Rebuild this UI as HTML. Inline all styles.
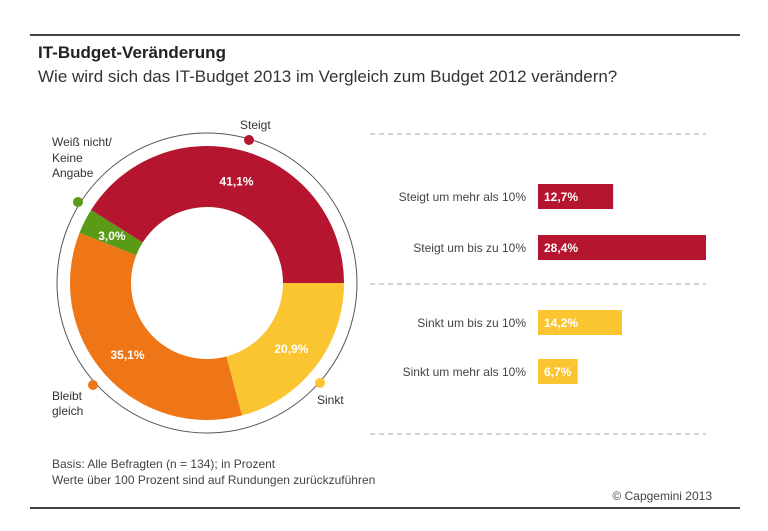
<!DOCTYPE html>
<html><head><meta charset="utf-8">
<style>
body{margin:0;background:#fff;}
svg{display:block;font-family:"Liberation Sans",sans-serif;}
</style></head>
<body>
<svg width="768" height="531" viewBox="0 0 768 531">
<line x1="30" y1="35" x2="740" y2="35" stroke="#444" stroke-width="2"/>
<text x="38" y="58" font-size="17" font-weight="bold" fill="#222">IT-Budget-Veränderung</text>
<text x="38" y="82" font-size="17" fill="#333">Wie wird sich das IT-Budget 2013 im Vergleich zum Budget 2012 verändern?</text>
<circle cx="207" cy="283" r="150" fill="none" stroke="#555" stroke-width="1"/>
<g id="donut"></g>
<g id="bars"></g>
<line x1="370" y1="134" x2="706" y2="134" stroke="#aaa" stroke-dasharray="5,4"/>
<line x1="370" y1="284" x2="706" y2="284" stroke="#aaa" stroke-dasharray="5,4"/>
<line x1="370" y1="434" x2="706" y2="434" stroke="#aaa" stroke-dasharray="5,4"/>
<text x="52" y="468" font-size="12" fill="#444">Basis: Alle Befragten (n = 134); in Prozent</text>
<text x="52" y="484" font-size="12" fill="#444">Werte über 100 Prozent sind auf Rundungen zurückzuführen</text>
<text x="712" y="500" font-size="12" fill="#444" text-anchor="end">© Capgemini 2013</text>
<line x1="30" y1="508" x2="740" y2="508" stroke="#444" stroke-width="2"/>
</svg>
<script>
const sliceNames=["Steigt","Weiß nicht/Keine Angabe","Bleibt gleich","Sinkt"];
const sliceValues=[41.1,3.0,35.1,20.9];
const sliceLabels=["41,1%","3,0%","35,1%","20,9%"];
const sliceColors=["#b5152e","#5a9a16","#ee7617","#fbc531"];
const barCategories=["Steigt um mehr als 10%","Steigt um bis zu 10%","Sinkt um bis zu 10%","Sinkt um mehr als 10%"];
const barValues=[12.7,28.4,14.2,6.7];
const barLabels=["12,7%","28,4%","14,2%","6,7%"];
const barColors=["#b5152e","#b5152e","#fbc531","#fbc531"];
const NS="http://www.w3.org/2000/svg";
const cx=207,cy=283,R=137,r=76;
function pt(a,rad){return [cx+rad*Math.cos(a*Math.PI/180),cy-rad*Math.sin(a*Math.PI/180)];}
const donut=document.getElementById('donut');
const total=sliceValues.reduce((s,v)=>s+v,0);
let a0=0;
sliceValues.forEach((v,i)=>{
  const sweep=v/total*360,a1=a0+sweep,large=sweep>180?1:0;
  const p1=pt(a0,R),p2=pt(a1,R),p3=pt(a1,r),p4=pt(a0,r);
  const path=document.createElementNS(NS,'path');
  path.setAttribute('d',`M${p1[0]},${p1[1]}A${R},${R} 0 ${large} 0 ${p2[0]},${p2[1]}L${p3[0]},${p3[1]}A${r},${r} 0 ${large} 1 ${p4[0]},${p4[1]}Z`);
  path.setAttribute('fill',sliceColors[i]);
  
  
  donut.appendChild(path);
  const mid=(a0+a1)/2,lp=pt(mid,(R+r)/2);
  const t=document.createElementNS(NS,'text');
  t.setAttribute('x',lp[0]);t.setAttribute('y',lp[1]+5);
  t.setAttribute('text-anchor','middle');t.setAttribute('font-size','12');t.setAttribute('font-weight','bold');t.setAttribute('fill','#fff');
  t.textContent=sliceLabels[i];
  
  
  donut.appendChild(t);
  a0=a1;
});
// marker dots and category labels (positions of annotations)
const dots=[[249,140],[78,202],[93,385],[320,383]];
const catLines=[[["Steigt",240,129,"start"]],[["Weiß nicht/",52,146,"start"],["Keine",52,162,"start"],["Angabe",52,177,"start"]],[["Bleibt",52,400,"start"],["gleich",52,415,"start"]],[["Sinkt",317,404,"start"]]];
dots.forEach((d,i)=>{
  const c=document.createElementNS(NS,'circle');
  c.setAttribute('cx',d[0]);c.setAttribute('cy',d[1]);c.setAttribute('r','5');c.setAttribute('fill',sliceColors[i]);
  
  
  donut.appendChild(c);
  catLines[i].forEach(l=>{
    const t=document.createElementNS(NS,'text');
    t.setAttribute('x',l[1]);t.setAttribute('y',l[2]);t.setAttribute('font-size','12');t.setAttribute('fill','#333');
    t.textContent=l[0];
    
    
    donut.appendChild(t);
  });
});
// bars
const bars=document.getElementById('bars');
const x0=538,pxPer=168/28.4;
const xS=v=>x0+v*pxPer;
const rowY=[184,235,310,359];
barValues.forEach((v,i)=>{
  const rect=document.createElementNS(NS,'rect');
  rect.setAttribute('x',x0);rect.setAttribute('y',rowY[i]);rect.setAttribute('width',xS(v)-x0);rect.setAttribute('height','25');rect.setAttribute('fill',barColors[i]);
  
  
  bars.appendChild(rect);
  const vl=document.createElementNS(NS,'text');
  vl.setAttribute('x',x0+6);vl.setAttribute('y',rowY[i]+17);vl.setAttribute('font-size','12');vl.setAttribute('font-weight','bold');vl.setAttribute('fill','#fff');
  vl.textContent=barLabels[i];
  
  
  bars.appendChild(vl);
  const cl=document.createElementNS(NS,'text');
  cl.setAttribute('x',526);cl.setAttribute('y',rowY[i]+17);cl.setAttribute('font-size','12');cl.setAttribute('fill','#444');cl.setAttribute('text-anchor','end');
  cl.textContent=barCategories[i];
  
  
  bars.appendChild(cl);
});
</script>
</body></html>
